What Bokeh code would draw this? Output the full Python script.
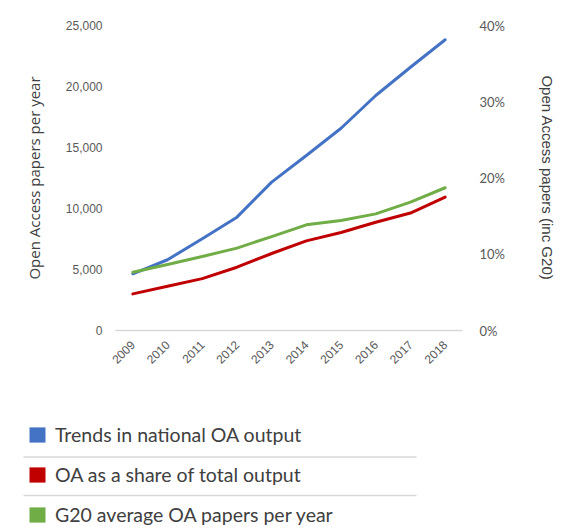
import math
from bokeh.plotting import figure
from bokeh.models import (Range1d, LinearAxis, FixedTicker, NumeralTickFormatter,
                          Legend, LegendItem, FactorRange)
from bokeh.layouts import column
from bokeh.embed import file_html
from bokeh.resources import INLINE

# ---- data ----
years = ["2009", "2010", "2011", "2012", "2013", "2014", "2015", "2016", "2017", "2018"]
national_oa = [4650, 5800, 7520, 9290, 12160, 14340, 16580, 19260, 21580, 23830]
oa_share = [0.048, 0.058, 0.068, 0.083, 0.101, 0.1175, 0.1285, 0.142, 0.154, 0.175]
g20_avg = [4780, 5410, 6070, 6750, 7700, 8660, 9020, 9560, 10520, 11700]
left_ticks = [0, 5000, 10000, 15000, 20000, 25000]
right_ticks = [0, 0.1, 0.2, 0.3, 0.4]
series_names = ["Trends in national OA output",
                "OA as a share of total output",
                "G20 average OA papers per year"]
colors = ["#4472C4", "#C00000", "#70AD47"]

# ---- main chart ----
p = figure(x_range=FactorRange(*years, range_padding=0), y_range=Range1d(0, 25000),
           width=558, height=398, output_backend="svg", toolbar_location=None,
           min_border_left=115, min_border_right=90, min_border_top=25, min_border_bottom=68)
p.frame_align = False
p.extra_y_ranges = {"pct": Range1d(0, 0.4)}
p.outline_line_color = None
p.xgrid.grid_line_color = None
p.ygrid.grid_line_color = None
p.background_fill_color = "white"

p.line(years, national_oa, color=colors[0], line_width=3, line_join="round", line_cap="round")
p.line(years, oa_share, color=colors[1], line_width=3, line_join="round", line_cap="round",
       y_range_name="pct")
p.line(years, g20_avg, color=colors[2], line_width=3, line_join="round", line_cap="round")

# x axis
xa = p.xaxis[0]
xa.axis_line_color = "#d9d9d9"
xa.axis_line_width = 1.5
xa.major_tick_line_color = None
xa.minor_tick_line_color = None
xa.major_tick_out = 0
xa.major_tick_in = 0
xa.major_label_orientation = math.pi / 4
xa.major_label_standoff = 12
xa.major_label_text_font = "Liberation Sans"
xa.major_label_text_font_size = "12px"
xa.major_label_text_color = "#595959"

# left axis
ya = p.yaxis[0]
ya.ticker = FixedTicker(ticks=left_ticks)
ya.formatter = NumeralTickFormatter(format="0,0")
ya.axis_line_color = None
ya.major_tick_line_color = None
ya.minor_tick_line_color = None
ya.major_tick_out = 0
ya.major_tick_in = 0
ya.major_label_standoff = 13
ya.major_label_text_font = "Liberation Sans"
ya.major_label_text_font_size = "12px"
ya.major_label_text_color = "#595959"
ya.axis_label = "Open Access papers per year"
ya.axis_label_text_font = "Open Sans"
ya.axis_label_text_font_style = "normal"
ya.axis_label_text_font_size = "15px"
ya.axis_label_text_color = "#404040"
ya.axis_label_standoff = 19

# right axis
ra = LinearAxis(y_range_name="pct", ticker=FixedTicker(ticks=right_ticks),
                formatter=NumeralTickFormatter(format="0%"),
                axis_label="Open Access papers (inc G20)")
ra.axis_line_color = None
ra.major_tick_line_color = None
ra.minor_tick_line_color = None
ra.major_tick_out = 0
ra.major_tick_in = 0
ra.major_label_standoff = 17
ra.major_label_text_font = "Lato"
ra.major_label_text_font_size = "13px"
ra.major_label_text_color = "#595959"
ra.axis_label_text_font = "Liberation Sans"
ra.axis_label_text_font_style = "normal"
ra.axis_label_text_font_size = "15px"
ra.axis_label_text_color = "#404040"
ra.axis_label_standoff = 31
p.add_layout(ra, "right")

# ---- legend panel ----
lg = figure(width=558, height=128, x_range=Range1d(0, 558), y_range=Range1d(0, 128),
            output_backend="svg", toolbar_location=None, min_border=0)
lg.frame_align = False
lg.axis.visible = False
lg.xgrid.grid_line_color = None
lg.ygrid.grid_line_color = None
lg.outline_line_color = None

lg.segment(x0=[23, 23], y0=[69.5, 31], x1=[416, 416], y1=[69.5, 31],
           line_color="#d9d9d9", line_width=1.5)

items = []
for name, c in zip(series_names, colors):
    r = lg.rect(x=[-1000], y=[-1000], width=1, height=1, fill_color=c, line_color=None)
    items.append(LegendItem(label=name, renderers=[r]))

legend = Legend(items=items, location=(27, 0), padding=0, margin=0, spacing=17,
                glyph_width=20, glyph_height=19, label_height=22, label_standoff=8,
                label_text_font="Lato", label_text_font_size="19.5px",
                label_text_color="#404040", background_fill_alpha=0,
                border_line_color=None)
lg.add_layout(legend)

layout = column(p, lg)
open("out.html", "w").write(file_html(layout, INLINE))
